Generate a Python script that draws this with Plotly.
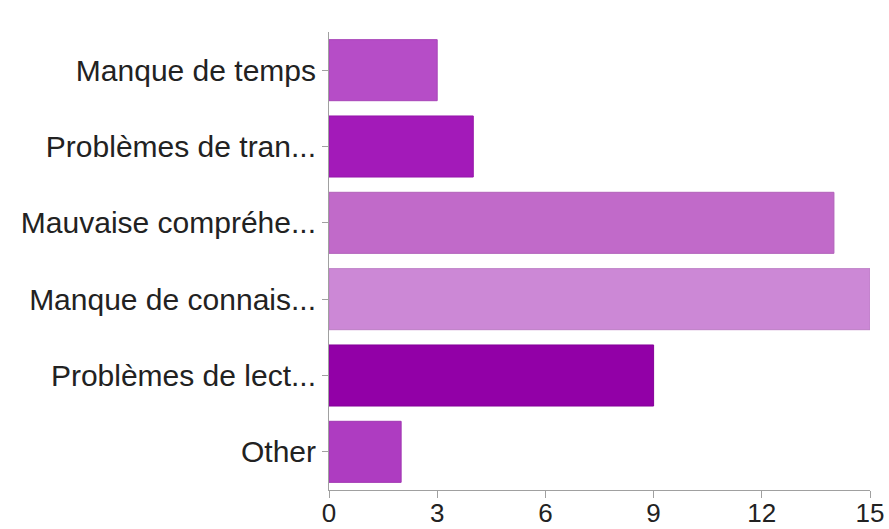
import plotly.graph_objects as go

categories = ["Manque de temps", "Problèmes de tran...", "Mauvaise compréhe...",
              "Manque de connais...", "Problèmes de lect...", "Other"]
values = [3, 4, 14, 15, 9, 2]
bar_colors = ["#b64dc7", "#a31ab9", "#c16ac9", "#cc88d6", "#9200a7", "#ae3cc1"]
line_colors = ["#a845b8", "#9616aa", "#b262ba", "#bd7ec6", "#850099", "#a036b2"]
tick_vals = [0, 3, 6, 9, 12, 15]

fig = go.Figure(go.Bar(
    x=values, y=categories, orientation="h",
    marker=dict(color=bar_colors, line=dict(color=line_colors, width=1)),
    width=0.8,
))

font = dict(family="Liberation Sans, Arial, Helvetica, sans-serif", size=30, color="#222222")

fig.update_layout(
    width=889, height=529,
    margin=dict(l=329, r=19, t=32, b=39, pad=0),
    paper_bgcolor="white", plot_bgcolor="white",
    showlegend=False,
    font=font,
    bargap=0.2,
)
fig.update_xaxes(
    automargin=False,
    range=[0, 15], tickvals=tick_vals, ticktext=[str(v) for v in tick_vals],
    showgrid=False, zeroline=False,
    showline=True, linecolor="#a0a0a0", linewidth=1,
    ticks="outside", ticklen=7, tickcolor="#a0a0a0",
    ticklabelstandoff=-7,
    tickfont=dict(size=26, color="#222222"),
)
fig.update_yaxes(
    automargin=False,
    categoryorder="array", categoryarray=categories,
    range=[5.5, -0.5],
    showgrid=False, zeroline=False,
    showline=True, linecolor="#a0a0a0", linewidth=1,
    ticks="outside", ticklen=6, tickcolor="#a0a0a0",
    tickfont=dict(size=30, color="#222222"),
)

fig.write_html(
    "out.html",
    config={"displayModeBar": False},
    post_script="document.body.style.margin='0';document.body.style.overflow='hidden';",
)
